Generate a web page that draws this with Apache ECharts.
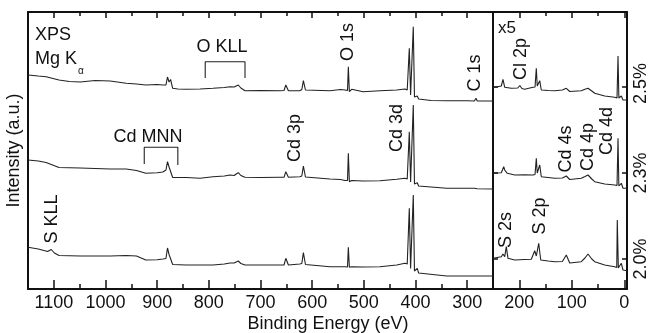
<!DOCTYPE html>
<html>
<head>
<meta charset="utf-8">
<script src="https://cdn.jsdelivr.net/npm/echarts@6/dist/echarts.min.js"></script>
<style>
  html, body { margin: 0; padding: 0; background: #fff; }
  #chart { width: 650px; height: 333px; }
</style>
</head>
<body>
<div id="chart"></div>
<script>
// binding energy (eV), intensity (a.u., traces already offset)
const wide25 = [[1150,214],[1130,213],[1115,212.3],[1090,209],[1070,207.5],[1049,207],[1020,208.5],[991,208],[960,205.7],[940,205],[922,204],[900,204.5],[889,204],[883,204],[880,212],[877,207],[874,209.5],[870,200.7],[860,200],[844,199.7],[817,200],[792,200.7],[770,201.5],[759,202.3],[751,202],[747,203],[743,204],[738,201],[730,198.3],[700,198.5],[662,198.3],[654.5,198.5],[651,204],[646,198.3],[624,198.3],[620,199.5],[617,208.3],[613,199],[611,198.3],[565.5,198.3],[545,199.5],[536.5,199],[531.6,198.5],[530,222.3],[528,197.3],[523.5,199.7],[520,197.8],[501.6,197.3],[468.7,198.3],[436.4,199],[420.4,200],[416,199],[414,197],[412,240.7],[409.5,194],[408.2,192.3],[406.5,196],[404.3,262.3],[402,192],[401,190.7],[398.5,192],[396.6,193],[394,190],[391.3,189],[370,188.5],[339.7,188.3],[300,188.2],[286,188],[283,190.7],[280.5,188],[250,188]];
const wide23 = [[1150,129],[1130,128],[1115,126.5],[1090,121.5],[1049,121],[1020,120.5],[991,120],[960,120],[940,118.5],[922,115.7],[900,116.3],[889,117],[883,119],[880,127.3],[877,122],[874,124],[870,111.5],[844,111.5],[817,110.7],[792,112.3],[770,113],[759,114],[751,113.5],[747,115],[743,116.3],[738,113.5],[730,111.7],[700,111.5],[662,111.7],[654.5,111.7],[651,117.3],[646,111.7],[624,112.3],[620,113],[617,123],[613,112],[611,111.7],[565.5,110],[545,109.5],[536.5,108.5],[531.6,108.5],[530,135.7],[528,107.3],[523.5,108.5],[501.6,108],[468.7,108.3],[436.4,109.7],[420.4,110.7],[416,110],[414,109],[412,157.3],[409.5,107],[408.2,105.7],[406.5,108],[404.3,184],[402,105],[401,104],[398.5,105],[396.6,106.3],[394,103],[391.3,101.3],[339.7,100.7],[286,100.7],[283,102.3],[280.5,100.3],[250,100]];
const wide20 = [[1150,41.7],[1130,40],[1112,37.5],[1105,39.5],[1099,36],[1090,33.5],[1049,33],[991,33],[960,33.5],[940,33],[922,29],[900,29.3],[889,30],[883,30.5],[880,41],[877,34.5],[874,35],[870,24.5],[844,24],[817,24],[792,24],[770,25],[759,26],[751,26],[747,27],[743,28],[738,25.5],[730,24],[700,24],[662,24],[654.5,24],[651,30.7],[646,24],[624,25],[620,25.5],[617,36.3],[613,24.5],[611,24],[565.5,22.3],[536.5,22.3],[531.6,22],[530,41.7],[528,21.7],[523.5,22.3],[501.6,22],[468.7,22.3],[436.4,24],[420.4,25.7],[416,25],[414,24.5],[412,80.7],[409.5,20.5],[408.2,19],[406.5,21],[404.3,94],[402,18],[401,17.3],[398.5,19],[396.6,20.7],[394,16],[391.3,14],[339.7,13],[286,13],[283,15],[280.5,13],[250,13]];

// x5 low binding energy region
const zoom25 = [[250,201.7],[245.6,201.7],[234.2,203],[231,209.7],[227.7,201.7],[215.2,200.7],[203,201],[199,203.5],[195,200.5],[189.7,199.7],[173.9,201.7],[170,202],[167.6,220.7],[165.8,203],[164.4,201.7],[161.1,208.3],[158.1,199],[145,198.5],[132.6,198.3],[118,199],[110.5,200.7],[104,197.5],[101,197.3],[82,198.3],[75,199.8],[69.2,200.7],[62,198],[56.5,195.7],[37.4,193],[18.4,191.7],[14,191],[12.1,233],[10.5,191],[8.9,190.7],[5.8,193],[2.6,189],[-0.6,189],[-5,189]];
const zoom23 = [[250,115.7],[234.2,116.3],[229.6,122.3],[227.7,119],[226.6,120.7],[222.8,115.7],[208.7,114],[190,114.3],[173.9,114],[170,114.5],[167.6,130.7],[165.8,116],[164.4,115.7],[161.1,124],[158.1,112.3],[145,111.5],[132.6,110.7],[118,111],[110.5,113],[104,109.5],[101,109],[82,110.7],[75,112.5],[69.2,114],[62,110],[56.5,107.3],[37.4,105],[18.4,104],[14,103.5],[12.1,150.7],[10.5,103],[8.9,102.3],[5.8,105.7],[2.6,100.7],[-0.6,100.7],[-5,100.7]];
const zoom20 = [[250,30.7],[234.2,32.3],[231,35],[227.7,32.3],[224.7,42.3],[221.5,30.7],[208.7,29],[190,29.5],[177.1,29.7],[170.6,38.3],[167.6,33],[163,45.7],[159.2,29],[145,28],[132.6,27.3],[118,27.5],[110.5,34],[104,26],[101,25.7],[82,27.3],[75,31],[69.2,35],[62,30],[56.5,27.3],[37.4,24],[18.4,22.3],[14.5,21.5],[13.5,69],[11.5,21],[10,20.5],[5.8,25.7],[2.6,19],[-0.6,18.3],[-5,18.3]];

// brackets
const oKLL = [[807,211],[807,227.3],[730,227.3],[730,211]];
const cdMNN = [[925,125],[925,141.7],[860,141.7],[860,124]];

// ticks
const wideMajor = [300,400,500,600,700,800,900,1000,1100];
const wideMinor = [350,450,550,650,750,850,950,1050];
const zoomMajor = [0,100,200];
const zoomMinor = [50,150];
const levelValues = [30,116,202];
const levelLabels = ['2.0%','2.3%','2.5%'];

const FONT = 'Liberation Sans, Arial, sans-serif';
const INK = '#111';
const FS = 18;

const chart = echarts.init(document.getElementById('chart'));

function xAx(grid, min, max, pos, ticks, len, labels, line) {
  return {
    type: 'value', gridIndex: grid, position: pos, inverse: true, min: min, max: max,
    axisLine: { show: line, onZero: false, lineStyle: { color: INK, width: 2 } },
    axisTick: { show: true, inside: true, length: len, customValues: ticks, lineStyle: { color: INK, width: 1.5 } },
    axisLabel: labels ? { show: true, customValues: ticks, color: INK, fontSize: FS, fontFamily: FONT, margin: 5,
      formatter: v => String(v) } : { show: false },
    splitLine: { show: false }
  };
}

function yAx(grid, pos, ticks, labels, name) {
  return {
    type: 'value', gridIndex: grid, position: pos, min: 0, max: 277,
    name: name || '', nameLocation: 'middle', nameGap: 5,
    nameTextStyle: { color: INK, fontSize: FS, fontFamily: FONT },
    axisLine: { show: true, onZero: false, lineStyle: { color: INK, width: 2 } },
    axisTick: ticks ? { show: true, inside: true, length: 5, customValues: levelValues, lineStyle: { color: INK, width: 1.5 } } : { show: false },
    axisLabel: labels ? {
      show: true, customValues: levelValues, rotate: 90, color: INK, fontSize: FS, fontFamily: FONT, margin: 5,
      formatter: v => {
        const s = levelLabels[levelValues.indexOf(v)];
        return v === levelValues[2] ? '{up|' + s + '}' : s;
      },
      rich: { up: { fontSize: FS, fontFamily: FONT, color: INK, padding: [0, 0, 0, 7] } }
    } : { show: false },
    splitLine: { show: false }
  };
}

function trace(data, xi, yi) {
  return { type: 'line', data: data, xAxisIndex: xi, yAxisIndex: yi, symbol: 'none', silent: true,
    lineStyle: { color: '#222', width: 1.1 } };
}

function txt(text, x, y, rot, size, align) {
  return { type: 'text', x: x, y: y, rotation: rot ? Math.PI / 2 : 0, silent: true,
    style: { text: text, fill: INK, font: (size || FS) + 'px ' + FONT, align: align || 'center', verticalAlign: 'middle' } };
}

chart.setOption({
  animation: false,
  grid: [
    { left: 28, top: 12, width: 465, height: 277, outerBoundsMode: 'none' },
    { left: 493, top: 12, width: 134, height: 277, outerBoundsMode: 'none' }
  ],
  xAxis: [
    xAx(0, 250, 1150, 'bottom', wideMajor, 9, true, true),
    xAx(0, 250, 1150, 'bottom', wideMinor, 5, false, false),
    xAx(0, 250, 1150, 'top', wideMajor, 6, false, true),
    xAx(0, 250, 1150, 'top', wideMinor, 4, false, false),
    xAx(1, -5, 250, 'bottom', zoomMajor, 9, true, true),
    xAx(1, -5, 250, 'bottom', zoomMinor, 5, false, false),
    xAx(1, -5, 250, 'top', zoomMajor, 6, false, true),
    xAx(1, -5, 250, 'top', zoomMinor, 4, false, false)
  ],
  yAxis: [
    yAx(0, 'left', false, false, 'Intensity (a.u.)'),
    yAx(0, 'right', false, false),
    yAx(1, 'left', true, false),
    yAx(1, 'right', true, true)
  ],
  series: [
    trace(wide25, 0, 0), trace(wide23, 0, 0), trace(wide20, 0, 0),
    trace(zoom25, 4, 2), trace(zoom23, 4, 2), trace(zoom20, 4, 2),
    trace(oKLL, 0, 0), trace(cdMNN, 0, 0)
  ],
  graphic: [
    txt('XPS', 35, 35, false, FS, 'left'),
    txt('Mg K', 35, 59, false, FS, 'left'),
    txt('α', 78, 71, false, 10, 'left'),
    txt('O KLL', 222, 47),
    txt('Cd MNN', 148, 137),
    txt('S KLL', 52, 219, true),
    txt('Cd 3p', 295, 138, true),
    txt('O 1s', 348, 42, true),
    txt('Cd 3d', 397, 128, true),
    txt('C 1s', 475, 73, true),
    txt('x5', 498, 28, false, 17, 'left'),
    txt('Cl 2p', 521, 59, true),
    txt('Cd 4s', 566, 149, true),
    txt('Cd 4p', 588, 147, true),
    txt('Cd 4d', 607, 131, true),
    txt('S 2s', 506, 230, true),
    txt('S 2p', 540, 216, true),
    txt('Binding Energy (eV)', 328, 324)
  ]
});
</script>
</body>
</html>
